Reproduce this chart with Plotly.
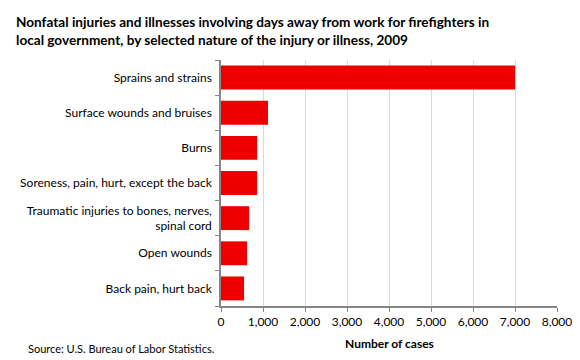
import plotly.graph_objects as go

categories = [
    "Sprains and strains",
    "Surface wounds and bruises",
    "Burns",
    "Soreness, pain, hurt, except the back",
    "Traumatic injuries to bones, nerves,<br>spinal cord",
    "Open wounds",
    "Back pain, hurt back",
]
cases = [7000, 1120, 860, 860, 670, 620, 550]
x_ticks = [0, 1000, 2000, 3000, 4000, 5000, 6000, 7000, 8000]
x_tick_labels = ["0", "1,000", "2,000", "3,000", "4,000", "5,000", "6,000", "7,000", "8,000"]

FONT = "Lato"
PW, PH = 336, 246

fig = go.Figure(go.Bar(
    x=cases, y=categories, orientation="h",
    marker=dict(color="#EE0000", line=dict(width=0)),
    width=0.68,
))

# page body has an 8px default margin, so the figure is 8px smaller
fig.update_layout(
    width=572, height=352,
    margin=dict(l=213, r=23, t=52, b=54, autoexpand=False),
    plot_bgcolor="white", paper_bgcolor="white",
    font=dict(family=FONT, size=12, color="#000000"),
    showlegend=False,
)
fig.update_xaxes(
    range=[0, 8000], tickvals=x_ticks, ticktext=x_tick_labels,
    showgrid=True, gridcolor="#d9d9d9", gridwidth=1,
    showline=True, linecolor="#868686", linewidth=1.5,
    ticks="outside", ticklen=4, tickcolor="#868686",
    tickfont=dict(size=12), zeroline=False, automargin=False,
)
fig.update_yaxes(
    categoryorder="array", categoryarray=categories[::-1],
    showline=True, linecolor="#868686", linewidth=1.5,
    ticks="outside", ticklen=4, tickcolor="#868686", tickson="boundaries",
    tickfont=dict(size=12), showgrid=False, ticklabelstandoff=5,
    automargin=False,
)

fig.add_annotation(
    text="<b>Nonfatal injuries and illnesses involving days away from work for firefighters in<br>local government, by selected nature of the injury or illness, 2009</b>",
    xref="paper", yref="paper", x=-207/PW, y=1 + 48/PH, xanchor="left", yanchor="top",
    showarrow=False, align="left", font=dict(size=13.6, family=FONT),
)
fig.add_annotation(
    text="<b>Number of cases</b>", xref="paper", yref="paper",
    x=0.5, y=-28/PH, xanchor="center", yanchor="top", showarrow=False,
    font=dict(size=12, family=FONT),
)
fig.add_annotation(
    text="Source: U.S. Bureau of Labor Statistics.", xref="paper", yref="paper",
    x=-195/PW, y=-34/PH, xanchor="left", yanchor="top", showarrow=False,
    font=dict(size=11, family=FONT),
)

fig.write_html("out.html")
